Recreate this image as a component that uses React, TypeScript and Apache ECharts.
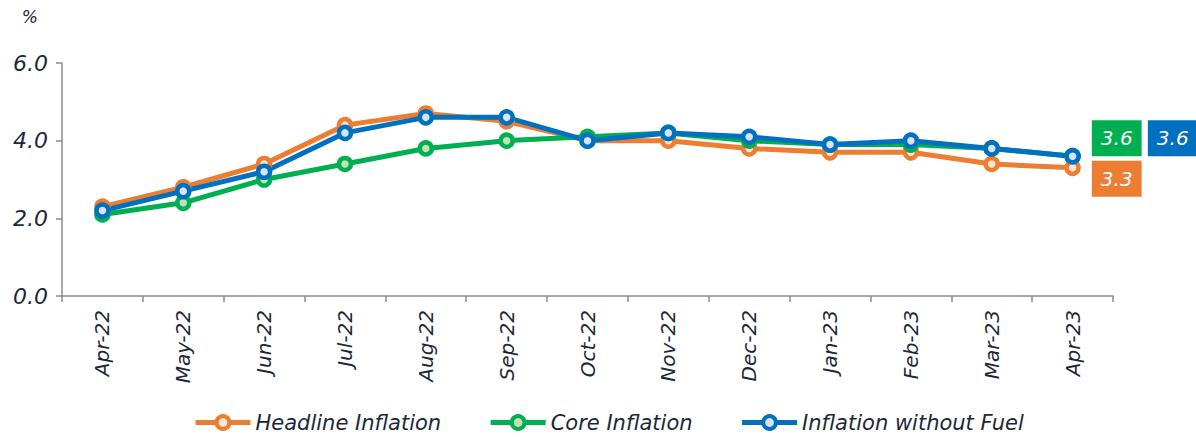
import React, { useEffect, useRef } from "react";
import * as echarts from "echarts";

const categories = ["Apr-22", "May-22", "Jun-22", "Jul-22", "Aug-22", "Sep-22", "Oct-22", "Nov-22", "Dec-22", "Jan-23", "Feb-23", "Mar-23", "Apr-23"];
const headline = [2.3, 2.8, 3.4, 4.4, 4.7, 4.5, 4.0, 4.0, 3.8, 3.7, 3.7, 3.4, 3.3];
const core = [2.1, 2.4, 3.0, 3.4, 3.8, 4.0, 4.1, 4.2, 4.0, 3.9, 3.9, 3.8, 3.6];
const withoutFuel = [2.2, 2.7, 3.2, 4.2, 4.6, 4.6, 4.0, 4.2, 4.1, 3.9, 4.0, 3.8, 3.6];
const seriesNames = ["Headline Inflation", "Core Inflation", "Inflation without Fuel"];

const FONT = "DejaVu Sans, Liberation Sans, Arial, sans-serif";
const TEXT = "#1c2838";

function makeSeries(name: string, values: number[], color: string, fill: string, labelDist: number, labelDy: number) {
  const last = values.length - 1;
  return {
    name,
    type: "line",
    data: values.map((v, i) =>
      i === last
        ? {
            value: v,
            label: {
              show: true,
              position: "right",
              distance: labelDist,
              offset: [0, labelDy],
              formatter: (p: any) => Number(p.value).toFixed(1),
              backgroundColor: color,
              color: "#ffffff",
              fontStyle: "italic",
              fontFamily: FONT,
              fontSize: 20,
              padding: [8, 9, 7, 9],
              lineHeight: 21,
            },
          }
        : v
    ),
    symbol: "circle",
    symbolSize: 12,
    lineStyle: { color, width: 5 },
    itemStyle: { color: fill, borderColor: color, borderWidth: 4.5 },
    emphasis: { disabled: true },
  };
}

export default function App() {
  const ref = useRef<HTMLDivElement>(null);
  useEffect(() => {
    const chart = echarts.init(ref.current!, null, { renderer: "svg" });
    chart.setOption({
      animation: false,
      grid: { left: 62, right: 83, top: 63, bottom: 143 },
      legend: {
        bottom: 1,
        left: 188,
        itemWidth: 55,
        itemHeight: 16,
        itemGap: 47,
        lineStyle: { width: 5 },
        itemStyle: { borderWidth: 4 },
        textStyle: { fontStyle: "italic", fontFamily: FONT, fontSize: 21, color: TEXT },
        data: seriesNames,
      },
      xAxis: {
        type: "category",
        data: categories,
        boundaryGap: true,
        axisLine: { lineStyle: { color: "#8c8c8c", width: 1.5 } },
        axisTick: { show: true, alignWithLabel: false, length: 6, lineStyle: { color: "#8c8c8c", width: 1.5 } },
        axisLabel: {
          rotate: 90,
          interval: 0,
          margin: 14,
          fontStyle: "italic",
          fontFamily: FONT,
          fontSize: 20,
          color: TEXT,
        },
      },
      yAxis: {
        type: "value",
        min: 0,
        max: 6,
        interval: 2,
        name: "%",
        nameLocation: "end",
        nameGap: 38,
        nameTextStyle: { fontStyle: "italic", fontFamily: FONT, fontSize: 17, color: TEXT, align: "right", padding: [0, 24, 0, 0] },
        splitLine: { show: false },
        axisLine: { show: true, lineStyle: { color: "#8c8c8c", width: 1.5 } },
        axisTick: { show: true, length: 6, lineStyle: { color: "#8c8c8c", width: 1.5 } },
        axisLabel: {
          formatter: (v: number) => v.toFixed(1),
          margin: 14,
          fontStyle: "italic",
          fontFamily: FONT,
          fontSize: 22,
          color: TEXT,
        },
      },
      series: [
        makeSeries(seriesNames[0], headline, "#ED7D31", "#FBE5D6", 11, 11),
        makeSeries(seriesNames[1], core, "#00B050", "#C5E0B4", 11, -18),
        makeSeries(seriesNames[2], withoutFuel, "#0070C0", "#DAE3F3", 67, -18),
      ],
    });
    return () => chart.dispose();
  }, []);
  return <div ref={ref} style={{ width: 1196, height: 439, position: "absolute", left: 0, top: 0 }} />;
}
